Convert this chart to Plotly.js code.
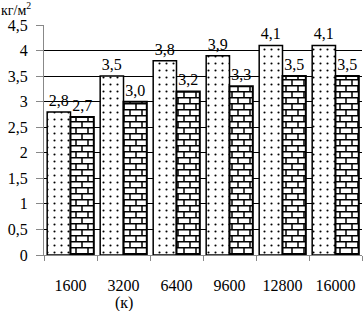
<!DOCTYPE html>
<html>
<head>
<meta charset="utf-8">
<script src="https://cdn.plot.ly/plotly-3.0.1.min.js"></script>
<style>html,body{margin:0;padding:0;background:#fff;}#chart{width:364px;height:311px;}</style>
</head>
<body>
<div id="chart"></div>
<script>
var categories = ["1600", "3200", "6400", "9600", "12800", "16000"];
var seriesA = [2.8, 3.5, 3.8, 3.9, 4.1, 4.1];
var seriesB = [2.7, 3.0, 3.2, 3.3, 3.5, 3.5];
var labelsA = ["2,8", "3,5", "3,8", "3,9", "4,1", "4,1"];
var labelsB = ["2,7", "3,0", "3,2", "3,3", "3,5", "3,5"];
var yTickVals = [0, 0.5, 1, 1.5, 2, 2.5, 3, 3.5, 4, 4.5];
var yTickText = ["0", "0,5", "1", "1,5", "2", "2,5", "3", "3,5", "4", "4,5"];
var unitLabel = "кг/м<sup>2</sup>";
var subLabel = "(к)";
var subLabelCategory = "3200";

var font = "Liberation Serif, Times New Roman, serif";
var traces = [
  {type: "bar", x: categories, y: seriesA, text: labelsA, textposition: "outside",
   cliponaxis: false,
   textfont: {family: font, size: 16, color: "#000"},
   marker: {color: "#fff", line: {color: "#000", width: 1.5},
            pattern: {shape: ".", fgcolor: "#000", bgcolor: "#fff", size: 7, solidity: 0.07}}},
  {type: "bar", x: categories, y: seriesB, text: labelsB, textposition: "outside",
   cliponaxis: false,
   textfont: {family: font, size: 16, color: "#000"},
   marker: {color: "#fff", line: {color: "#000", width: 2},
            pattern: {shape: "+", fgcolor: "#000", bgcolor: "#fff", size: 8, solidity: 0.2}}}
];
var layout = {
  width: 364, height: 311,
  margin: {l: 44, r: 2, t: 25, b: 56},
  paper_bgcolor: "#fff", plot_bgcolor: "#fff",
  showlegend: false,
  bargap: 0.12, bargroupgap: 0,
  font: {family: font, color: "#000", size: 16},
  xaxis: {type: "category", categoryorder: "array", categoryarray: categories,
          range: [-0.5, categories.length - 0.5],
          showgrid: false, showline: true, linecolor: "#888", linewidth: 1,
          ticks: "outside", tickson: "boundaries", ticklen: 5, tickcolor: "#888",
          ticklabelstandoff: 16,
          tickfont: {family: font, size: 16, color: "#000"}},
  yaxis: {range: [0, 4.5], tickvals: yTickVals, ticktext: yTickText,
          showgrid: true, gridcolor: "#000", gridwidth: 1, zeroline: false,
          showline: true, linecolor: "#888", linewidth: 1,
          ticks: "outside", ticklen: 7, tickcolor: "#888", ticklabelstandoff: 5,
          tickfont: {family: font, size: 16, color: "#000"}},
  annotations: [
    {text: unitLabel, xref: "paper", yref: "paper", x: 0, y: 1,
     xanchor: "left", yanchor: "bottom", xshift: -44, yshift: 6, showarrow: false,
     borderpad: 0,
     font: {family: font, size: 14, color: "#000"}},
    {text: subLabel, xref: "x", yref: "paper", x: categories.indexOf(subLabelCategory), y: 0,
     xanchor: "center", yanchor: "top", yshift: -37, showarrow: false,
     font: {family: font, size: 16, color: "#000"}}
  ]
};
Plotly.newPlot("chart", traces, layout, {staticPlot: true}).then(function (gd) {
  var svg = gd.querySelector("svg.main-svg");
  var defs = svg.querySelector("defs");
  var ns = "http://www.w3.org/2000/svg";
  var pat = document.createElementNS(ns, "pattern");
  pat.setAttribute("id", "brickpat");
  pat.setAttribute("patternUnits", "userSpaceOnUse");
  pat.setAttribute("width", "12");
  pat.setAttribute("height", "12");
  pat.innerHTML =
    '<rect x="0" y="0" width="12" height="12" fill="#fff"/>' +
    '<path d="M0 0.75H12M0 6.75H12M2 0V6.75M8 6.75V12" stroke="#000" stroke-width="1.5" fill="none"/>';
  defs.appendChild(pat);
  var bars = gd.querySelectorAll(".barlayer .trace");
  if (bars.length > 1) {
    bars[1].querySelectorAll("path").forEach(function (p) {
      p.style.fill = "url(#brickpat)";
    });
  }
});
</script>
</body>
</html>
